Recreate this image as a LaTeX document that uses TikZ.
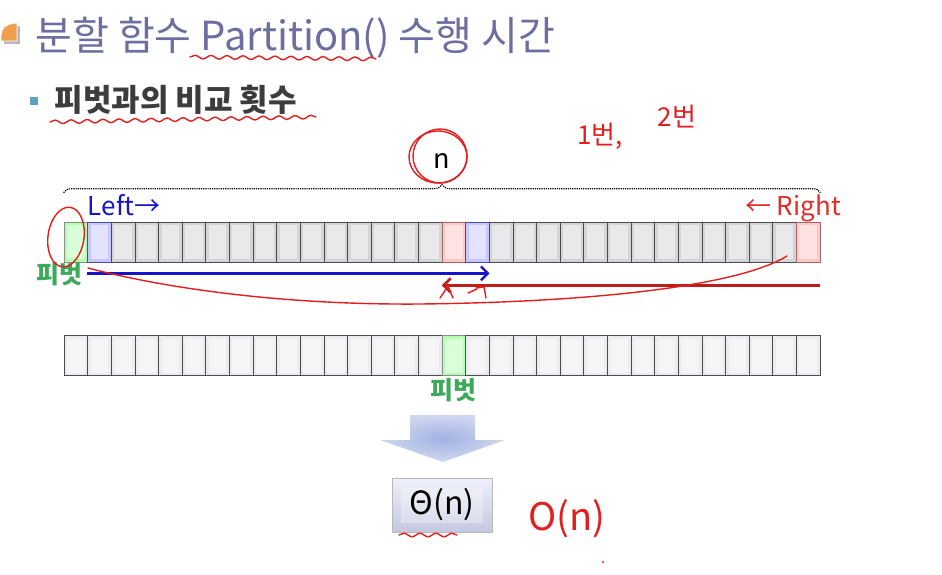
\documentclass[tikz,border=0pt]{standalone}
\usepackage{fontspec}
\setmainfont{Noto Sans CJK KR}
\usetikzlibrary{positioning,calc,arrows.meta}
\usetikzlibrary{decorations.pathreplacing,decorations.pathmorphing}

\definecolor{titlecol}{RGB}{108,110,160}
\definecolor{subcol}{RGB}{60,60,60}
\definecolor{bulletcol}{RGB}{92,163,192}
\definecolor{iconorange}{RGB}{240,160,75}
\definecolor{pivotgreen}{RGB}{60,170,90}
\definecolor{leftblue}{RGB}{20,20,200}
\definecolor{rightred}{RGB}{228,45,40}
\definecolor{arrowred}{RGB}{190,30,25}
\definecolor{pen}{RGB}{228,30,30}
\definecolor{cellgray}{RGB}{212,212,215}
\definecolor{cellpale}{RGB}{236,236,240}
\definecolor{boxtop}{RGB}{238,240,250}
\definecolor{boxbot}{RGB}{196,200,224}
\definecolor{downin}{RGB}{160,178,228}
\definecolor{downout}{RGB}{208,216,240}

\tikzset{
  cell/.style={draw=black!70, line width=0.7pt, minimum width=23.625pt,
    minimum height=40pt, inner sep=0pt, fill=cellgray,
    path picture={\fill[white,opacity=0.5]
      ([shift={(3pt,-3pt)}]path picture bounding box.north west) rectangle
      ([shift={(-3pt,3pt)}]path picture bounding box.south east);}},
  topcell/.style={},
  botcell/.style={fill=cellpale},
  pivotcell/.style={fill=green!30!white, draw=black!45},
  leftcell/.style={fill=blue!22!white, draw=blue!50!black!70},
  rightcell/.style={fill=red!22!white, draw=red!40!black!60},
  pivottxt/.style={text=pivotgreen, font=\fontsize{25}{30}\selectfont\bfseries},
  hand/.style={pen, line width=1.4pt, line cap=round, line join=round},
  wavy/.style={hand, decorate, decoration={snake, segment length=16pt, amplitude=1.8pt}},
  handtxt/.style={text=pen, font=\fontsize{26}{30}\selectfont},
}

\begin{document}
\begin{tikzpicture}[x=1pt, y=-1pt]
  \useasboundingbox (0,0) rectangle (942,574);
  \fill[white] (0,0) rectangle (942,574);

  % title and bullet
  \fill[gray!55] (4,26) rectangle (20,44);
  \filldraw[fill=iconorange, draw=white, line width=0.8pt]
    (1,41) -- (1,35) .. controls (1,28) and (8,23) .. (17,23) -- (17,41) -- cycle;
  \node[anchor=base west, text=titlecol, font=\fontsize{40}{46}\selectfont] (title)
    at (32,50) {분할 함수 Partition() 수행 시간};
  \fill[bulletcol] (30,97) rectangle (38,105);
  \node[anchor=base west, text=subcol, font=\fontsize{31}{36}\selectfont\bfseries] (sub)
    at (51,111) {피벗과의 비교 횟수};

  % top row of cells
  \foreach \i in {0,...,31}{
    \def\kind{topcell}
    \ifnum\i=0 \def\kind{pivotcell}\fi
    \ifnum\i=1 \def\kind{leftcell}\fi
    \ifnum\i=16 \def\kind{rightcell}\fi
    \ifnum\i=17 \def\kind{leftcell}\fi
    \ifnum\i=31 \def\kind{rightcell}\fi
    \node[cell, \kind] (t\i) at ({64+23.625*(\i+0.5)},242) {};
  }

  % bottom row of cells
  \foreach \i in {0,...,31}{
    \def\kind{botcell}
    \ifnum\i=16 \def\kind{pivotcell}\fi
    \node[cell, \kind] (b\i) at ({64+23.625*(\i+0.5)},355.5) {};
  }

  % brace and n
  \draw[densely dotted, line width=1.2pt, decorate, decoration={brace, amplitude=8pt}]
    ([yshift=29pt]t0.north west) -- ([yshift=29pt]t31.north east)
    node[midway, above=20pt, font=\fontsize{27}{30}\selectfont] (n) {n};

  % labels of the top row
  \node[anchor=base west, text=leftblue, font=\fontsize{26}{30}\selectfont] (left)
    at ([xshift=-3pt, yshift=6pt]t1.north west) {Left→};
  \node[anchor=base east, text=rightred, font=\fontsize{26}{30}\selectfont] (right)
    at ([xshift=24pt, yshift=6pt]t31.north east) {← Right};
  \node[pivottxt, anchor=north] (piv1) at ([xshift=-16pt, yshift=3pt]t0.south) {피벗};

  % scanning arrows
  \draw[leftblue, line width=2.4pt, -{Straight Barb[length=7pt, width=14pt]}]
    ([yshift=-11pt]t1.south west) -- ([yshift=-11pt]t17.south east);
  \draw[arrowred, line width=2.8pt, -{Straight Barb[length=7pt, width=14pt]}]
    ([yshift=-23pt]t31.south east) -- ([yshift=-23pt]t16.south west);

  \node[pivottxt, below=-1pt of b16] (piv2) {피벗};

  % down arrow and result
  \shade[inner color=downin, outer color=downout]
    (410,415) -- (475,415) -- (475,440) -- (505,440) -- (443,462)
    -- (380,440) -- (410,440) -- cycle;
  \node[draw=gray!55, top color=boxtop, bottom color=boxbot,
    minimum width=100pt, minimum height=54pt, font=\fontsize{32}{36}\selectfont,
    path picture={\fill[white, opacity=0.3]
      ([shift={(9pt,-9pt)}]path picture bounding box.north west) rectangle
      ([shift={(-9pt,9pt)}]path picture bounding box.south east);}]
    (res) at (442,505) {Θ(n)};

  % red pen notes
  \draw[wavy] (190,57) -- (376,59);
  \draw[wavy] (50,122) -- (316,117);
  \draw[wavy] (399,535) -- (457,535);
  \draw[hand] (438,157) ellipse [x radius=29, y radius=26];
  \draw[hand] (440,156) ellipse [x radius=27, y radius=27];
  \draw[hand, rotate around={-8:(66,237)}] (66,237) ellipse [x radius=18, y radius=30];
  \draw[hand] (88,268) .. controls (180,292) and (300,305) .. (420,304)
    .. controls (600,302) and (740,285) .. (787,256);
  \draw[hand] (440,298) -- (448,286) -- (453,298);
  \draw[hand] (468,293) -- (477,289);
  \draw[hand] (476,288) -- (484,287) -- (486,298);
  \node[handtxt] (once) at (600,136) {1번,};
  \node[handtxt] (twice) at (677,117) {2번};
  \node[handtxt, font=\fontsize{38}{44}\selectfont] (bigo) at (567,519) {O(n)};
  \fill[pen] (603,562) circle (1.2);
\end{tikzpicture}
\end{document}
